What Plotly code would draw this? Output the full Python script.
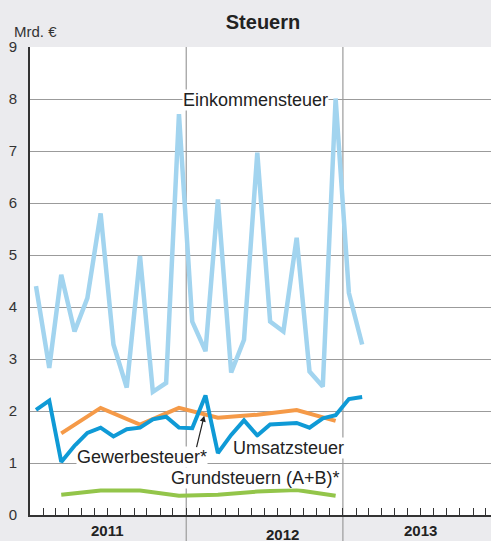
import pandas as pd
import plotly.graph_objects as go

# ---- data ----
months = pd.date_range("2011-01-01", periods=26, freq="MS") + pd.Timedelta(days=14)
quarters = pd.date_range("2011-03-01", periods=8, freq="3MS") + pd.Timedelta(days=14)

einkommensteuer = [4.40, 2.83, 4.62, 3.53, 4.17, 5.80, 3.28, 2.45, 4.98, 2.37, 2.54, 7.71,
                   3.72, 3.15, 6.07, 2.74, 3.37, 6.97, 3.72, 3.53, 5.33, 2.76, 2.47, 8.01,
                   4.27, 3.28]
umsatzsteuer = [2.02, 2.20, 1.02, 1.33, 1.58, 1.68, 1.51, 1.65, 1.68, 1.84, 1.89, 1.68,
                1.67, 2.30, 1.19, 1.54, 1.82, 1.53, 1.74, 1.76, 1.77, 1.68, 1.86, 1.92,
                2.23, 2.27]
gewerbesteuer = [1.57, 2.06, 1.74, 2.06, 1.87, 1.93, 2.02, 1.81]
grundsteuern = [0.39, 0.47, 0.47, 0.37, 0.39, 0.45, 0.48, 0.37]

year_labels = ["2011", "2012", "2013"]

# ---- colours ----
c_ek = "#a2d4ef"
c_us = "#0f9ad6"
c_gw = "#f59a48"
c_gr = "#93c54a"
grid = "#9b9b9b"
dark = "#333333"
txt = "#222222"

fig = go.Figure()
fig.add_trace(go.Scatter(x=months, y=einkommensteuer, mode="lines",
                         line=dict(color=c_ek, width=4.5), name="Einkommensteuer"))
fig.add_trace(go.Scatter(x=quarters, y=gewerbesteuer, mode="lines",
                         line=dict(color=c_gw, width=4), name="Gewerbesteuer*"))
fig.add_trace(go.Scatter(x=months, y=umsatzsteuer, mode="lines",
                         line=dict(color=c_us, width=4), name="Umsatzsteuer"))
fig.add_trace(go.Scatter(x=quarters, y=grundsteuern, mode="lines",
                         line=dict(color=c_gr, width=4), name="Grundsteuern (A+B)*"))

# year separator lines (extend below axis)
for d in ["2012-01-01", "2013-01-01"]:
    fig.add_shape(type="line", xref="x", yref="paper", x0=d, x1=d, y0=-0.06, y1=1,
                  line=dict(color=grid, width=1.2), layer="below")

font = "Liberation Sans, Arial, Helvetica, sans-serif"

def label(text, x, y):
    fig.add_annotation(text=text, x=x, y=y, xref="x", yref="y", showarrow=False,
                       font=dict(family=font, size=18, color=txt),
                       bgcolor="white", borderpad=0, xanchor="center", yanchor="middle")

label("Einkommensteuer", "2012-06-11", 7.98)
label("Gewerbesteuer*", "2011-09-20", 1.12)
label("Umsatzsteuer", "2012-08-26", 1.28)
label("Grundsteuern (A+B)*", "2012-06-11", 0.71)

# arrow from Gewerbesteuer label to the orange line
fig.add_annotation(text="", x="2012-02-12", y=1.91, xref="x", yref="y",
                   showarrow=True, ax=-8, ay=33, arrowhead=2, arrowsize=1,
                   arrowwidth=1.2, arrowcolor=txt, standoff=0)

# year labels
for lab, x, y in zip(year_labels, ["2011-07-02", "2012-08-14", "2013-07-02"],
                     [-0.034, -0.041, -0.034]):
    fig.add_annotation(text="<b>" + lab + "</b>", x=x, y=y, xref="x", yref="paper",
                       showarrow=False, font=dict(family=font, size=15, color=txt),
                       xanchor="center", yanchor="middle")

fig.add_annotation(text="Mrd. €", xref="paper", yref="paper",
                   x=-18/461, y=(515-32)/468, xanchor="left", yanchor="middle",
                   showarrow=False, font=dict(family=font, size=15, color=dark))

fig.update_layout(
    width=491, height=541,
    margin=dict(l=30, r=0, t=47, b=26, autoexpand=False),
    paper_bgcolor="#ebebee", plot_bgcolor="white",
    showlegend=False,
    title=dict(text="<b>Steuern</b>", x=263/491, y=1-22/541, xanchor="center",
               yanchor="middle", font=dict(family=font, size=20, color=txt)),
    font=dict(family=font),
)
fig.update_xaxes(type="date", range=["2011-01-01", "2013-12-13"],
                 showgrid=False, zeroline=False, automargin=False,
                 showline=True, linecolor=dark, linewidth=2,
                 ticks="inside", dtick="M1", tick0="2011-01-01", ticklen=7,
                 tickcolor=dark, tickwidth=1, showticklabels=False)
fig.update_yaxes(range=[0, 9], dtick=1, showgrid=True, gridcolor=grid, gridwidth=1,
                 zeroline=False, showline=True, linecolor=dark, linewidth=2,
                 ticks="", ticklabelstandoff=8, automargin=False,
                 tickfont=dict(family=font, size=15, color=dark))

fig.write_html("out.html", config={"displayModeBar": False},
               post_script="document.body.style.margin='0';document.body.style.overflow='hidden';")
